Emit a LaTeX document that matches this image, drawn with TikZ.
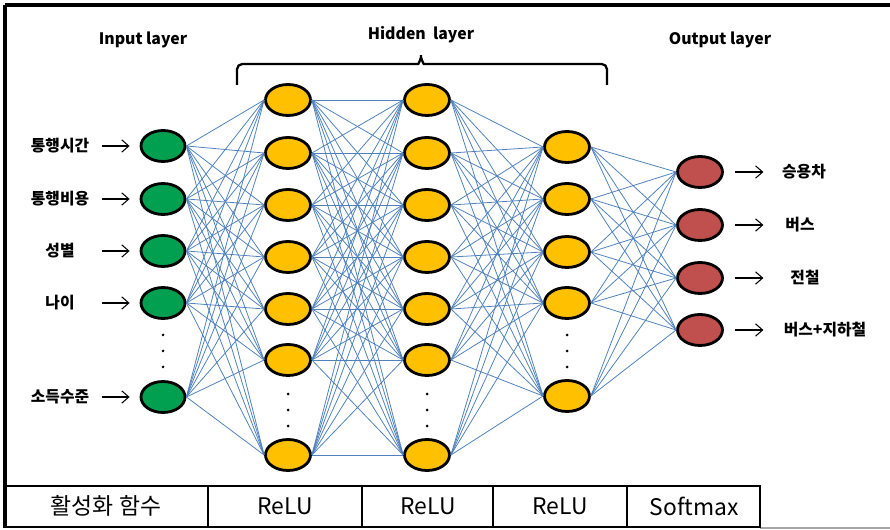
\documentclass[tikz,border=0pt]{standalone}
\usepackage{fontspec}
\setmainfont{Noto Sans CJK KR}
\usetikzlibrary{shapes.geometric, arrows.meta}

\definecolor{verde}{RGB}{0,160,80}
\definecolor{amarillo}{RGB}{255,192,0}
\definecolor{rojo}{RGB}{192,80,77}
\definecolor{azul}{RGB}{79,129,189}

\tikzset{
  neurona/.style={ellipse, draw=black, line width=1.6pt, inner sep=0pt, minimum width=0.88cm, minimum height=0.62cm},
  entrada/.style={neurona, fill=verde},
  oculta/.style={neurona, fill=amarillo, minimum width=0.9cm},
  salida/.style={neurona, fill=rojo, minimum width=0.9cm},
  enlace/.style={azul, line width=0.45pt},
  flecha/.style={-{Straight Barb[length=4pt, width=7pt]}, line width=0.6pt},
  etiqueta/.style={font=\fontsize{9}{11}\selectfont\bfseries, inner sep=1pt},
  celda/.style={font=\fontsize{13}{15}\selectfont, inner sep=1pt}
}

\begin{document}
\begin{tikzpicture}[x=0.02cm, y=-0.02cm]
        \useasboundingbox (0,0) rectangle (890,530);

        % Marco exterior
        \draw[line width=2.2pt] (5,5) -- (890,5);
        \draw[line width=2.2pt] (5,5) -- (5,528);
        \draw[gray!70, line width=0.6pt] (760,528) -- (890,528);

        % Capa de entrada
        \foreach \y [count=\i] in {146,199,251,303,397}
            \node[entrada] (i\i) at (163,\y) {};
        % Capas ocultas
        \foreach \y [count=\i] in {100,153,205,257,309,360,455} {
            \node[oculta] (a\i) at (288,\y) {};
            \node[oculta] (b\i) at (427,\y) {};
        }
        \foreach \y [count=\i] in {147,199,252,303,396}
            \node[oculta] (c\i) at (567,\y) {};
        % Capa de salida
        \foreach \y [count=\i] in {172,225,278,330}
            \node[salida] (o\i) at (700,\y) {};

        % Conexiones entre capas
        \foreach \i in {1,...,5}
            \foreach \j in {1,...,7}
                \draw[enlace] (i\i.east) -- (a\j.west);
        \foreach \i in {1,...,7}
            \foreach \j in {1,...,7}
                \draw[enlace] (a\i.east) -- (b\j.west);
        \foreach \i in {1,...,7}
            \foreach \j in {1,...,5}
                \draw[enlace] (b\i.east) -- (c\j.west);
        \foreach \i in {1,...,5}
            \foreach \j in {1,...,4}
                \draw[enlace] (c\i.east) -- (o\j.west);

        % Puntos suspensivos
        \foreach \y in {335,351,367} {
            \fill (163,\y) circle (0.03cm);
            \fill (567,\y) circle (0.03cm);
        }
        \foreach \y in {394,410,426} {
            \fill (288,\y) circle (0.03cm);
            \fill (427,\y) circle (0.03cm);
        }

        % Variables de entrada
        \foreach \txt [count=\i] in {통행시간,통행비용,성별,나이,소득수준} {
            \node[etiqueta] (l\i) at (60,0 |- i\i) {\txt};
            \draw[flecha] ([xshift=-0.76cm]i\i.west) -- ([xshift=-0.2cm]i\i.west);
        }

        % Clases de salida
        \node[etiqueta] (s1) at (804,172) {승용차};
        \node[etiqueta] (s2) at (800,225) {버스};
        \node[etiqueta] (s3) at (805,278) {전철};
        \node[etiqueta] (s4) at (825,330) {버스+지하철};
        \foreach \i in {1,...,4}
            \draw[flecha] ([xshift=0.23cm]o\i.east) -- ([xshift=0.79cm]o\i.east);

        % Títulos de las capas
        \node[etiqueta] (tin) at (143,40) {Input layer};
        \node[etiqueta] (thid) at (421,35) {Hidden\ \ layer};
        \node[etiqueta] (tout) at (720,40) {Output layer};
        \draw[line width=1.3pt, rounded corners=3pt] (237,85) -- (237,64) -- (413,64)
            to[out=0, in=-90] (421,52) to[out=-90, in=180] (429,64) -- (607,64) -- (607,85);

        % Tabla de funciones de activación
        \draw[line width=1.4pt] (5,486) rectangle (760,527);
        \foreach \x in {208,362,493,627}
            \draw[line width=0.9pt] (\x,486) -- (\x,527);
        \node[celda] (f0) at (106,506) {활성화 함수};
        \node[celda] (f1) at (285,506) {ReLU};
        \node[celda] (f2) at (428,506) {ReLU};
        \node[celda] (f3) at (560,506) {ReLU};
        \node[celda] (f4) at (694,506) {Softmax};
\end{tikzpicture}
\end{document}
